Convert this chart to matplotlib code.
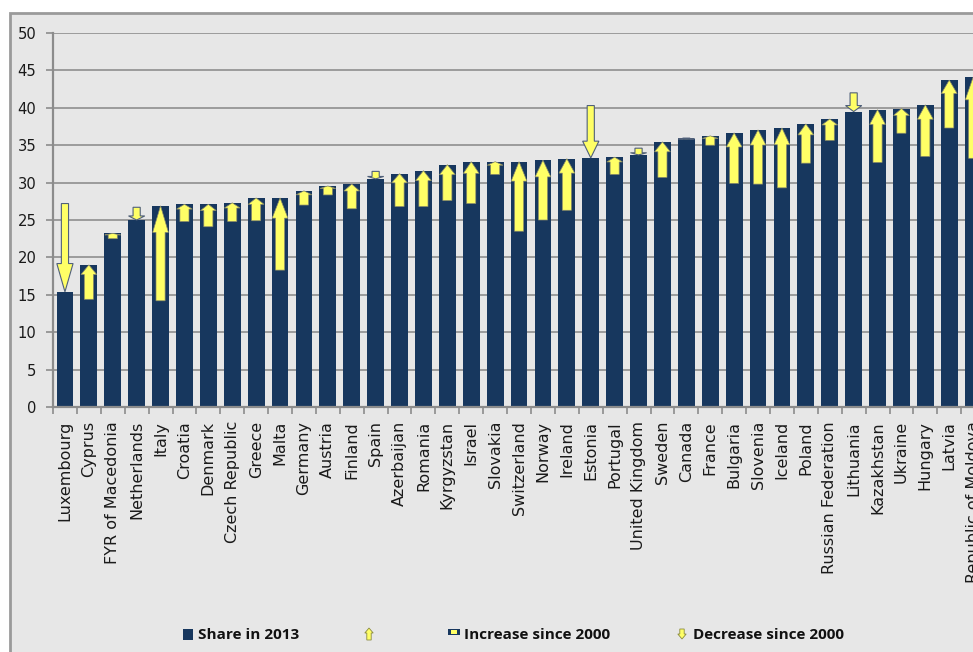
import matplotlib
matplotlib.use("Agg")
import matplotlib.pyplot as plt
from matplotlib.patches import Rectangle, Polygon

countries = ["Luxembourg", "Cyprus", "FYR of Macedonia", "Netherlands", "Italy",
             "Croatia", "Denmark", "Czech Republic", "Greece", "Malta", "Germany",
             "Austria", "Finland", "Spain", "Azerbaijan", "Romania", "Kyrgyzstan",
             "Israel", "Slovakia", "Switzerland", "Norway", "Ireland", "Estonia",
             "Portugal", "United Kingdom", "Sweden", "Canada", "France", "Bulgaria",
             "Slovenia", "Iceland", "Poland", "Russian Federation", "Lithuania",
             "Kazakhstan", "Ukraine", "Hungary", "Latvia", "Republic of Moldova"]
share_2013 = [15.4, 19.0, 23.2, 25.0, 26.9, 27.1, 27.1, 27.3, 27.95, 27.95, 28.9,
              29.55, 29.8, 30.5, 31.2, 31.6, 32.4, 32.8, 32.8, 32.8, 33.0, 33.2,
              33.3, 33.4, 33.7, 35.45, 35.8, 36.25, 36.65, 37.05, 37.3, 37.85,
              38.5, 39.5, 39.75, 39.9, 40.4, 43.7, 44.1]
share_2000 = [27.2, 14.4, 22.5, 26.7, 14.2, 24.8, 24.1, 24.8, 24.9, 18.3, 27.0,
              28.35, 26.5, 31.5, 26.8, 26.8, 27.6, 27.2, 31.1, 23.5, 25.0, 26.3,
              40.3, 31.1, 34.6, 30.7, 35.95, 35.0, 29.9, 29.8, 29.3, 32.6,
              35.65, 42.0, 32.7, 36.6, 33.5, 37.3, 33.25]
yticks = [0, 5, 10, 15, 20, 25, 30, 35, 40, 45, 50]

NAVY = "#17375e"
YELLOW = "#ffff66"
BG = "#e7e7e7"
GRID = "#969696"
TICKFONT = "DejaVu Sans"
LEGFONT = "Open Sans"

W, H = 973, 652
fig = plt.figure(figsize=(W / 100, H / 100), dpi=100, facecolor="white")


def fx(x):
    return x / W


def fy(y):
    return 1 - y / H


# outer chart frame (cut off at right and bottom like the reference)
fig.patches.append(Rectangle((fx(10), -0.05), 1.2, fy(13) + 0.05, transform=fig.transFigure,
                             facecolor=BG, edgecolor="#9a9a9a", lw=2, zorder=-5))

n = len(countries)
step = 23.9
left, top, bottom = 53, 33, 407
ax = fig.add_axes([fx(left), fy(bottom), fx(n * step), (bottom - top) / H])
ax.set_facecolor(BG)
ax.set_xlim(-0.5, n - 0.5)
ax.set_ylim(0, 50)

ax.bar(range(n), share_2013, width=0.7, color=NAVY, zorder=2)


def arrow(x, y0, y1, sw, hw, hr, ec, lw):
    L = y1 - y0
    hs = y1 - hr * L
    pts = [(x - sw, y0), (x + sw, y0), (x + sw, hs), (x + hw, hs), (x, y1),
           (x - hw, hs), (x - sw, hs)]
    ax.add_patch(Polygon(pts, closed=True, facecolor=YELLOW, edgecolor=ec,
                         lw=lw, zorder=3, joinstyle="miter"))


for i, (a, b) in enumerate(zip(share_2000, share_2013)):
    if b >= a:
        arrow(i, a, b, 0.19, 0.33, 0.28, "#8a8a6a", 0.5)
    else:
        arrow(i, a, b, 0.15, 0.34, 0.32, "#50607a", 0.8)

ax.set_yticks(yticks)
ax.set_yticklabels([str(t) for t in yticks], fontsize=10.6, family=TICKFONT, color="#1a1a1a")
ax.set_xticks(range(n))
ax.set_xticklabels(countries, rotation=90, fontsize=11.5, family=TICKFONT,
                   color="#1a1a1a", va="top", ha="center")
ax.set_xticks([i + 0.5 for i in range(-1, n)], minor=True)
ax.tick_params(axis="x", which="major", length=0, pad=10)
ax.tick_params(axis="x", which="minor", length=5, width=1.2, color="#8c8c8c")
ax.tick_params(axis="y", length=5, width=1.2, color="#8c8c8c", pad=7)

ax.grid(axis="y", color=GRID, lw=1.3, zorder=1)
ax.set_axisbelow(True)
for s in ["top", "right"]:
    ax.spines[s].set_visible(False)
for s in ["left", "bottom"]:
    ax.spines[s].set_color("#8c8c8c")
    ax.spines[s].set_linewidth(1.6)

# legend, drawn by hand in figure pixels
ly = 635
fig.patches.append(Rectangle((fx(183), fy(640)), fx(10), 11 / H, transform=fig.transFigure,
                             facecolor=NAVY, edgecolor="none"))
fig.text(fx(198), fy(ly), "Share in 2013", fontsize=11, weight="bold", family=LEGFONT,
         va="center", ha="left", color="#111111")


def icon_arrow(cx, ytop, ybot, up):
    sw, hw = 2.2, 4.2
    if up:
        tip, tail, hs = ytop, ybot, ytop + 5
    else:
        tip, tail, hs = ybot, ytop, ybot - 5
    pts = [(cx - sw, tail), (cx + sw, tail), (cx + sw, hs), (cx + hw, hs), (cx, tip),
           (cx - hw, hs), (cx - sw, hs)]
    fig.patches.append(Polygon([(fx(px), fy(py)) for px, py in pts], closed=True,
                               transform=fig.transFigure, facecolor=YELLOW,
                               edgecolor="#8a8a40", lw=0.6))


icon_arrow(369, 628, 640, True)
fig.patches.append(Rectangle((fx(448), fy(635)), fx(12), 6 / H, transform=fig.transFigure,
                             facecolor=NAVY, edgecolor="none"))
fig.patches.append(Rectangle((fx(451), fy(634)), fx(6), 4 / H, transform=fig.transFigure,
                             facecolor=YELLOW, edgecolor="none"))
fig.text(fx(464), fy(ly), "Increase since 2000", fontsize=11, weight="bold", family=LEGFONT,
         va="center", ha="left", color="#111111")
icon_arrow(682, 629, 639, False)
fig.text(fx(693), fy(ly), "Decrease since 2000", fontsize=11, weight="bold", family=LEGFONT,
         va="center", ha="left", color="#111111")

fig.savefig("out.png", dpi=100, facecolor="white")
